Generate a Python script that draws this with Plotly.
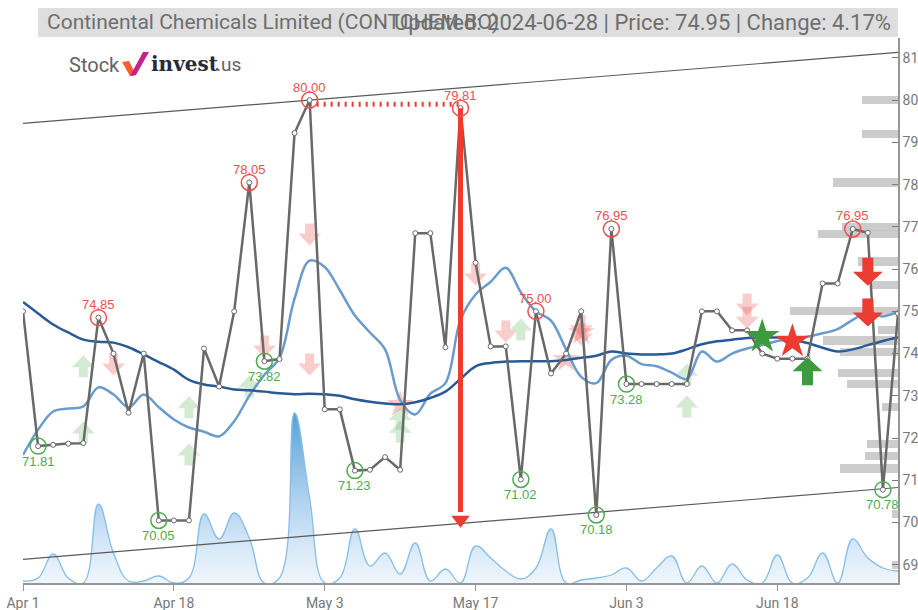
import plotly.graph_objects as go

# ---------------- data ----------------
tick_idx = [0, 10, 20, 30, 40, 50]
tick_labels = ["Apr 1", "Apr 18", "May 3", "May 17", "Jun 3", "Jun 18"]

price = [75.0, 71.81, 71.84, 71.87, 71.88, 74.85, 74.0, 72.6, 74.0, 70.05,
         70.05, 70.05, 74.12, 73.22, 75.0, 78.05, 73.82, 73.87, 79.22, 80.0,
         72.68, 72.68, 71.23, 71.25, 71.55, 71.25, 76.85, 76.85, 74.15, 79.81,
         76.15, 74.17, 74.17, 71.02, 75.0, 73.53, 74.0, 75.0, 70.18, 76.95,
         73.28, 73.28, 73.28, 73.28, 73.28, 75.0, 75.0, 74.55, 74.55, 74.0,
         73.88, 73.88, 73.88, 75.66, 75.66, 76.95, 76.86, 70.78, 74.95]

ma_long = [75.22, 74.95, 74.69, 74.5, 74.33, 74.28, 74.26, 74.15, 73.98, 73.8,
           73.62, 73.38, 73.27, 73.22, 73.15, 73.13, 73.1, 73.06, 73.04, 73.05,
           73.04, 73.0, 72.92, 72.86, 72.82, 72.8, 72.85, 72.95, 73.1, 73.4,
           73.7, 73.78, 73.81, 73.82, 73.82, 73.82, 73.85, 73.9, 73.95, 74.05,
           74.0, 73.98, 73.98, 74.0, 74.1, 74.22, 74.29, 74.33, 74.37, 74.38,
           74.38, 74.33, 74.25, 74.14, 74.05, 74.1, 74.2, 74.3, 74.38]

ma_short = [71.6, 72.2, 72.63, 72.7, 72.75, 73.2, 73.03, 72.73, 73.03, 72.73,
            72.44, 72.25, 72.15, 72.04, 72.4, 73.0, 73.5, 73.9, 75.3, 76.2,
            76.05, 75.5, 74.9, 74.5, 74.1, 72.9, 72.56, 73.05, 73.3, 74.8,
            75.4, 75.7, 76.03, 75.45, 75.0, 74.78, 74.1, 73.45, 73.3, 73.85,
            73.95, 73.75, 73.7, 73.55, 73.4, 74.05, 73.81, 74.0, 74.12, 74.2,
            74.3, 74.35, 74.4, 74.48, 74.58, 74.8, 74.97, 74.88, 75.0]

volume = [2, 5, 29, 5, 0, 79, 30, 2, 2, 7,
          0, 5, 69, 44, 70, 45, 0, 5, 170, 85,
          0, 5, 54, 17, 30, 9, 40, 2, 14, 0,
          37, 25, 12, 4, 15, 54, 0, 3, 5, 8,
          15, 2, 15, 27, 0, 17, 0, 19, 3, 0,
          28, 0, 5, 30, 0, 44, 25, 15, 12]
volume = [v * 1000 for v in volume]

high_idx = [5, 15, 19, 29, 34, 39, 55]
high_val = [74.85, 78.05, 80.00, 79.81, 75.00, 76.95, 76.95]
low_idx = [1, 9, 16, 22, 33, 38, 40, 57]
low_val = [71.81, 70.05, 73.82, 71.23, 71.02, 70.18, 73.28, 70.78]

trend_x = [0, 58]
trend_upper = [79.45, 81.13]
trend_lower = [69.13, 70.83]

res_x = [19, 29]
res_y = [79.9, 79.9]
drop_x = 29
drop_from = 79.81
drop_to = 69.95

profile_price = [80.0, 79.2, 78.05, 77.0, 76.82, 76.18, 75.63, 75.0, 74.57, 74.31,
                 74.03, 73.53, 73.29, 72.73, 71.85, 71.57, 71.28, 70.2, 69.0]
profile_vol = [36, 36, 65, 56, 80, 40, 28, 108, 20, 75,
               58, 60, 51, 16, 31, 33, 58, 6, 6]

buy_faint_x = [4, 4, 11, 11, 15, 25, 25, 33, 44, 44]
buy_faint_y = [73.70, 72.13, 72.73, 71.61, 73.22, 72.45, 72.15, 74.57, 73.5, 72.75]
sell_faint_x = [6, 16, 19, 19, 30, 32, 37, 37, 48, 48]
sell_faint_y = [73.74, 74.17, 76.82, 73.74, 75.87, 74.52, 74.65, 74.45, 75.16, 74.85]
star_faint_x = [25, 36, 37]
star_faint_y = [72.8, 73.86, 74.5]

buy_star = (49, 74.4)
sell_star = (51, 74.29)
buy_arrow = [(52, 73.58)]
sell_arrow = [(56, 75.94), (56, 74.97)]

# ---------------- layout helpers ----------------
W, H = 918, 610
ML, MR, MT, MB = 23, 20, 38, 27
PW = W - ML - MR
PH = H - MT - MB
PX_PER_IDX = PW / 58.0


def px(xp):
    return (xp - ML) / PW


def py(yp):
    return (H - MB - yp) / PH


RED = "rgb(235,60,50)"
GREEN = "rgb(60,155,60)"
LRED = "rgb(240,80,80)"
LGREEN = "rgb(80,170,80)"
NARROW = "Liberation Sans Narrow, Arial Narrow, Roboto, sans-serif"

fig = go.Figure()

# volume (bottom axis y)
fig.add_trace(go.Scatter(
    x=list(range(len(volume))), y=volume, mode="lines",
    line=dict(color="rgb(135,190,232)", width=1.3, shape="spline", smoothing=1.2),
    fill="tozeroy",
    fillgradient=dict(type="vertical",
                      colorscale=[[0, "rgba(225,238,250,0.55)"], [0.35, "rgba(175,210,240,0.75)"],
                                  [1, "rgba(75,155,215,0.95)"]],
                      start=0, stop=max(volume)),
    xaxis="x", yaxis="y", hoverinfo="skip", showlegend=False))

# volume profile bars (right side)
fig.add_trace(go.Bar(
    y=profile_price, x=[-v / PX_PER_IDX for v in profile_vol], base=[58] * len(profile_vol),
    orientation="h", width=0.19, marker=dict(color="rgba(195,195,195,0.85)", line=dict(width=0)),
    xaxis="x", yaxis="y2", hoverinfo="skip", showlegend=False))

# trend lines
for ty in (trend_upper, trend_lower):
    fig.add_trace(go.Scatter(x=trend_x, y=ty, mode="lines",
                             line=dict(color="rgb(90,90,90)", width=1.2),
                             xaxis="x", yaxis="y2", hoverinfo="skip", showlegend=False))

# faint stars
fig.add_trace(go.Scatter(x=star_faint_x, y=star_faint_y, mode="markers",
                         marker=dict(symbol="star", size=20, color="rgba(240,90,90,0.35)"),
                         xaxis="x", yaxis="y2", hoverinfo="skip", showlegend=False))

# moving averages
fig.add_trace(go.Scatter(x=list(range(len(ma_short))), y=ma_short, mode="lines",
                         line=dict(color="rgb(105,155,205)", width=2.5, shape="spline"),
                         xaxis="x", yaxis="y2", hoverinfo="skip", showlegend=False))
fig.add_trace(go.Scatter(x=list(range(len(ma_long))), y=ma_long, mode="lines",
                         line=dict(color="rgb(40,90,150)", width=2.5, shape="spline"),
                         xaxis="x", yaxis="y2", hoverinfo="skip", showlegend=False))

# resistance dotted line
fig.add_trace(go.Scatter(x=res_x, y=res_y, mode="lines",
                         line=dict(color=RED, width=5, dash="2px,5px"),
                         xaxis="x", yaxis="y2", hoverinfo="skip", showlegend=False))

# price
fig.add_trace(go.Scatter(x=list(range(len(price))), y=price, mode="lines+markers",
                         line=dict(color="rgb(105,105,105)", width=2.5),
                         marker=dict(size=5, color="white", line=dict(color="rgb(105,105,105)", width=1)),
                         xaxis="x", yaxis="y2", hoverinfo="skip", showlegend=False))

# drop line
fig.add_trace(go.Scatter(x=[drop_x, drop_x], y=[drop_from, drop_to + 0.3], mode="lines",
                         line=dict(color=RED, width=5),
                         xaxis="x", yaxis="y2", hoverinfo="skip", showlegend=False))
fig.add_trace(go.Scatter(x=[drop_x], y=[drop_to + 0.12], mode="markers",
                         marker=dict(symbol="triangle-down", size=16, color=RED),
                         xaxis="x", yaxis="y2", hoverinfo="skip", showlegend=False))

# high / low circles
fig.add_trace(go.Scatter(x=high_idx, y=high_val, mode="markers",
                         marker=dict(symbol="circle-open", size=16, color=LRED, line=dict(width=1.5)),
                         xaxis="x", yaxis="y2", hoverinfo="skip", showlegend=False))
fig.add_trace(go.Scatter(x=low_idx, y=low_val, mode="markers",
                         marker=dict(symbol="circle-open", size=16, color=LGREEN, line=dict(width=1.5)),
                         xaxis="x", yaxis="y2", hoverinfo="skip", showlegend=False))

# bold stars
fig.add_trace(go.Scatter(x=[buy_star[0]], y=[buy_star[1]], mode="markers",
                         marker=dict(symbol="star", size=26, color=GREEN),
                         xaxis="x", yaxis="y2", hoverinfo="skip", showlegend=False))
fig.add_trace(go.Scatter(x=[sell_star[0]], y=[sell_star[1]], mode="markers",
                         marker=dict(symbol="star", size=26, color=RED),
                         xaxis="x", yaxis="y2", hoverinfo="skip", showlegend=False))

annotations = []
for i, v in zip(high_idx, high_val):
    annotations.append(dict(x=i, y=v, xref="x", yref="y2", text=f"{v:.2f}", showarrow=False,
                            yshift=13, font=dict(size=13, color=LRED, family="Liberation Sans, Arial")))
for i, v in zip(low_idx, low_val):
    annotations.append(dict(x=i, y=v, xref="x", yref="y2", text=f"{v:.2f}", showarrow=False,
                            yshift=-15, font=dict(size=13, color=LGREEN, family="Liberation Sans, Arial")))

# title bar texts
annotations.append(dict(x=px(45), y=py(22), xref="paper", yref="paper", xanchor="left", yanchor="middle",
                        text="Continental Chemicals Limited (CONTCHEM.BO)", showarrow=False,
                        font=dict(size=21, color="rgb(110,110,110)", family=NARROW)))
annotations.append(dict(x=px(893), y=py(22), xref="paper", yref="paper", xanchor="right", yanchor="middle",
                        text="Updated: 2024-06-28 | Price: 74.95 | Change: 4.17%", showarrow=False,
                        font=dict(size=22, color="rgb(110,110,110)", family=NARROW)))
# logo
annotations.append(dict(x=px(67), y=py(65), xref="paper", yref="paper", xanchor="left", yanchor="middle",
                        text="Stock", showarrow=False,
                        font=dict(size=20, color="rgb(100,100,100)", family="Roboto, sans-serif")))
annotations.append(dict(x=px(149), y=py(64), xref="paper", yref="paper", xanchor="left", yanchor="middle",
                        text="<b>invest</b>", showarrow=False,
                        font=dict(size=20, color="rgb(45,40,55)", family="DejaVu Serif, serif")))
annotations.append(dict(x=px(214), y=py(65), xref="paper", yref="paper", xanchor="left", yanchor="middle",
                        text=".us", showarrow=False,
                        font=dict(size=19, color="rgb(100,100,100)", family="Roboto, sans-serif")))

shapes = []
# title bar
shapes.append(dict(type="rect", xref="paper", yref="paper", x0=px(38), x1=px(898), y0=py(37), y1=py(8),
                   fillcolor="rgb(222,222,222)", line=dict(width=0), layer="below"))
# logo check mark
shapes.append(dict(type="path", xref="paper", yref="paper",
                   path=f"M{px(122)},{py(62)} L{px(129)},{py(61)} L{px(136)},{py(75)} L{px(130)},{py(76)} Z",
                   fillcolor="rgb(245,95,45)", line=dict(width=0)))
shapes.append(dict(type="path", xref="paper", yref="paper",
                   path=f"M{px(130)},{py(76)} L{px(136)},{py(75)} L{px(149)},{py(52)} L{px(143)},{py(52)} Z",
                   fillcolor="rgb(195,35,140)", line=dict(width=0)))


def arrow(xa, ya, up, color, w, s, h, hh, layer):
    sgn = 1 if up else -1
    t = sgn * h / 2
    b = sgn * (h / 2 - hh)
    e = -sgn * h / 2
    path = (f"M0,{t} L{w/2},{b} L{s/2},{b} L{s/2},{e} L{-s/2},{e} "
            f"L{-s/2},{b} L{-w/2},{b} Z")
    return dict(type="path", xref="x", yref="y2", xsizemode="pixel", ysizemode="pixel",
                xanchor=xa, yanchor=ya, path=path, fillcolor=color, line=dict(width=0), layer=layer)


for xa, ya in zip(buy_faint_x, buy_faint_y):
    shapes.append(arrow(xa, ya, True, "rgba(110,185,110,0.3)", 23, 9, 22, 12, "below"))
for xa, ya in zip(sell_faint_x, sell_faint_y):
    shapes.append(arrow(xa, ya, False, "rgba(240,90,90,0.3)", 23, 9, 22, 12, "below"))
for xa, ya in buy_arrow:
    shapes.append(arrow(xa, ya, True, GREEN, 30, 11, 28, 14, "above"))
for xa, ya in sell_arrow:
    shapes.append(arrow(xa, ya, False, RED, 30, 11, 28, 14, "above"))

fig.update_layout(
    width=W, height=H,
    margin=dict(l=ML, r=MR, t=MT, b=MB, pad=0, autoexpand=False),
    paper_bgcolor="white", plot_bgcolor="white",
    showlegend=False,
    xaxis=dict(range=[0, 58], tickvals=tick_idx, ticktext=tick_labels, showgrid=False, zeroline=False,
               showline=True, linecolor="rgb(150,150,150)", linewidth=1.5, ticks="outside", ticklen=6,
               tickcolor="rgb(150,150,150)", automargin=False,
               tickfont=dict(size=14, color="rgb(120,120,120)", family=NARROW)),
    yaxis=dict(range=[0, PH * 1000], visible=False, fixedrange=True),
    yaxis2=dict(overlaying="y", side="right", range=[68.57, 81.47], tickvals=list(range(69, 82)),
                showgrid=False, zeroline=False, showline=True, linecolor="rgb(150,150,150)", linewidth=1.5,
                ticks="inside", ticklen=6, tickcolor="rgb(120,120,120)", automargin=False,
                tickfont=dict(size=14, color="rgb(120,120,120)", family=NARROW)),
    annotations=annotations,
    shapes=shapes,
    bargap=0,
)

fig.write_html("out.html", config={"displayModeBar": False},
               post_script="document.body.style.margin='0';document.body.style.overflow='hidden';")
